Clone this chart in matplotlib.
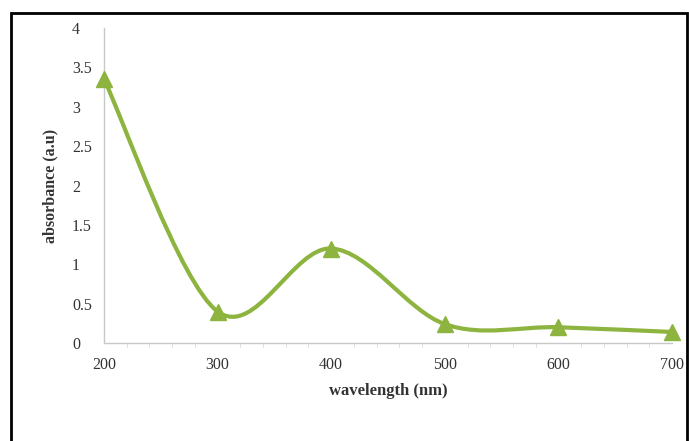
import numpy as np
import matplotlib.pyplot as plt
from matplotlib.path import Path
from matplotlib.patches import PathPatch, Rectangle

# datos
wavelength = [200, 300, 400, 500, 600, 700]
absorbance = [3.35, 0.40, 1.20, 0.24, 0.20, 0.14]
yticks = [0, 0.5, 1, 1.5, 2, 2.5, 3, 3.5, 4]
ytick_labels = ['0', '0.5', '1', '1.5', '2', '2.5', '3', '3.5', '4']

green = '#8CB43F'

plt.rcParams['font.family'] = ['Liberation Serif', 'DejaVu Serif']

fig = plt.figure(figsize=(6.89, 4.41), dpi=100)
ax = fig.add_axes([104 / 689, 1 - 343 / 441, (672 - 104) / 689, (343 - 28) / 441])

# curva suavizada tipo Excel (Catmull-Rom -> Bezier)
x = np.array(wavelength, dtype=float)
y = np.array(absorbance, dtype=float)
t = 1 / 6
verts = [(x[0], y[0])]
codes = [Path.MOVETO]
for i in range(len(x) - 1):
    i0 = max(i - 1, 0)
    i3 = min(i + 2, len(x) - 1)
    c1 = (x[i] + (x[i + 1] - x[i0]) * t, y[i] + (y[i + 1] - y[i0]) * t)
    c2 = (x[i + 1] - (x[i3] - x[i]) * t, y[i + 1] - (y[i3] - y[i]) * t)
    verts += [c1, c2, (x[i + 1], y[i + 1])]
    codes += [Path.CURVE4] * 3
ax.add_patch(PathPatch(Path(verts, codes), fill=False, edgecolor=green, lw=3, zorder=2))
ax.plot(wavelength, absorbance, linestyle='none', marker='^', markersize=11,
        color=green, zorder=3, clip_on=False)

ax.set_xlim(200, 700)
ax.set_ylim(0, 4)
ax.set_xticks(wavelength)
ax.set_xticks(np.arange(200, 701, 20), minor=True)
ax.set_yticks(yticks)
ax.set_yticklabels(ytick_labels)

for s in ['top', 'right']:
    ax.spines[s].set_visible(False)
for s in ['left', 'bottom']:
    ax.spines[s].set_color('#c8c8c8')
    ax.spines[s].set_linewidth(1)
ax.tick_params(axis='both', which='major', length=0, labelsize=11.5, colors='#333333')
ax.tick_params(axis='x', pad=10)
ax.tick_params(axis='y', pad=23)
for lab in ax.get_yticklabels():
    lab.set_horizontalalignment('left')
ax.tick_params(axis='x', which='minor', length=3, color='#d8d8d8', direction='out')

ax.set_xlabel('wavelength (nm)', fontsize=12, fontweight='bold', color='#333333', labelpad=7)
ax.set_ylabel('absorbance (a.u)', fontsize=11.5, fontweight='bold', color='#333333', labelpad=10)

# marco exterior
fig.patches.append(Rectangle((11 / 689, -0.05), (687 - 11) / 689, 1.05 - 13 / 441,
                             transform=fig.transFigure, fill=False, edgecolor='black', lw=2))

fig.savefig('out.png', dpi=100)
